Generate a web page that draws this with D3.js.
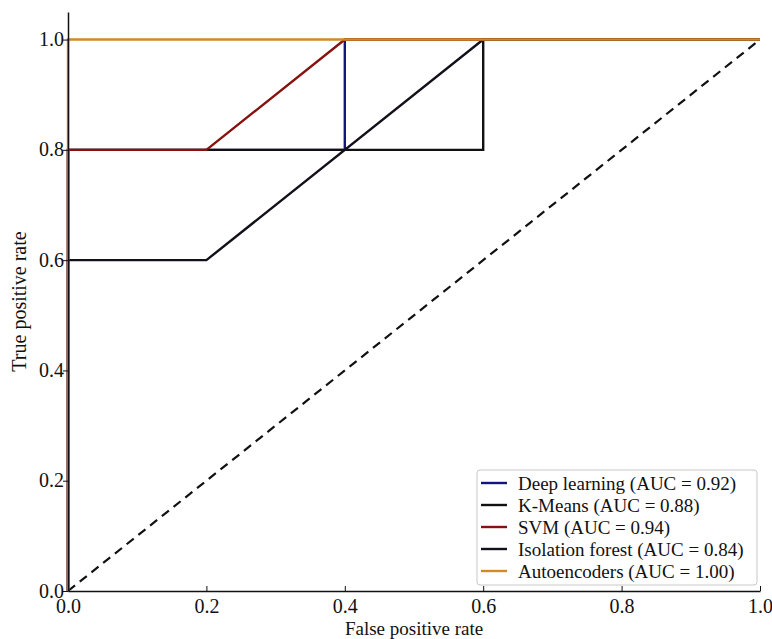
<!DOCTYPE html>
<html>
<head>
<meta charset="utf-8">
<script src="https://cdn.jsdelivr.net/npm/d3@7"></script>
</head>
<body style="margin:0; background:#fff">
<svg id="chart" width="772" height="639"></svg>
<script>
// ROC curves: false positive rate / true positive rate
const deepFpr = [0, 0, 0.4, 0.4, 1];
const deepTpr = [0, 0.8, 0.8, 1, 1];
const kmeansFpr = [0, 0, 0.6, 0.6, 1];
const kmeansTpr = [0, 0.8, 0.8, 1, 1];
const svmFpr = [0, 0, 0.2, 0.4, 1];
const svmTpr = [0, 0.8, 0.8, 1, 1];
const isoFpr = [0, 0, 0.2, 0.6, 1];
const isoTpr = [0, 0.6, 0.6, 1, 1];
const aeFpr = [0, 0, 1];
const aeTpr = [0, 1, 1];

const names = ["Deep learning", "K-Means", "SVM", "Isolation forest", "Autoencoders"];
const aucs = [0.92, 0.88, 0.94, 0.84, 1.00];
const tickValues = [0, 0.2, 0.4, 0.6, 0.8, 1.0];

const colors = ["#14147a", "#111111", "#8a1010", "#14101a", "#cf8a2a"];
const FONT = "Liberation Serif";

const series = [
  [deepFpr, deepTpr],
  [kmeansFpr, kmeansTpr],
  [svmFpr, svmTpr],
  [isoFpr, isoTpr],
  [aeFpr, aeTpr]
].map((s, i) => ({
  name: names[i],
  auc: aucs[i],
  color: colors[i],
  pts: s[0].map((f, j) => ({ x: f, y: s[1][j] }))
}));

const margin = { top: 12, right: 12, bottom: 48, left: 68 };
const W = 772, H = 639;
const svg = d3.select("#chart");

const x = d3.scaleLinear().domain([0, 1]).range([margin.left, W - margin.right]);
const y = d3.scaleLinear().domain([0, 1.05]).range([H - margin.bottom, margin.top]);

// diagonal chance line
svg.append("line")
  .attr("x1", x(0)).attr("y1", y(0))
  .attr("x2", x(1)).attr("y2", y(1))
  .attr("stroke", "#111")
  .attr("stroke-width", 2.2)
  .attr("stroke-dasharray", "9,6");

const line = d3.line().x(d => x(d.x)).y(d => y(d.y));

svg.append("g")
  .selectAll("path")
  .data(series)
  .enter()
  .append("path")
  .attr("d", d => line(d.pts))
  .attr("fill", "none")
  .attr("stroke", d => d.color)
  .attr("stroke-width", 2.4);

// axes
const xAxis = d3.axisBottom(x).tickValues(tickValues).tickFormat(d3.format(".1f")).tickSizeInner(-5).tickSizeOuter(0);
svg.append("g")
  .attr("transform", `translate(0,${y(0)})`)
  .call(xAxis)
  .call(g => {
    g.attr("font-family", FONT).attr("font-size", 20);
    g.select(".domain").attr("stroke", "#111").attr("stroke-width", 1.5);
    g.selectAll(".tick line").attr("stroke", "#111");
    g.selectAll(".tick text").attr("y", 8).attr("dy", "0.71em").attr("fill", "#111");
  });

const yAxis = d3.axisLeft(y).tickValues(tickValues).tickFormat(d3.format(".1f")).tickSizeInner(5).tickSizeOuter(0);
svg.append("g")
  .attr("transform", `translate(${x(0)},0)`)
  .call(yAxis)
  .call(g => {
    g.attr("font-family", FONT).attr("font-size", 20);
    g.select(".domain").attr("stroke", "#111").attr("stroke-width", 1.5);
    g.selectAll(".tick line").attr("stroke", "#111");
    g.selectAll(".tick text").attr("x", -4).attr("dy", "0.3em").attr("fill", "#111");
  });

// axis labels
svg.append("text")
  .attr("x", (x(0) + x(1)) / 2)
  .attr("y", 635)
  .attr("text-anchor", "middle")
  .attr("font-family", FONT)
  .attr("font-size", 19)
  .attr("fill", "#111")
  .text("False positive rate");

svg.append("text")
  .attr("transform", `translate(26,${(y(0) + y(1.05)) / 2}) rotate(-90)`)
  .attr("text-anchor", "middle")
  .attr("font-family", FONT)
  .attr("font-size", 20)
  .attr("fill", "#111")
  .text("True positive rate");

// legend
const lg = svg.append("g").attr("transform", "translate(477,470)");
lg.append("rect")
  .attr("width", 280).attr("height", 115)
  .attr("rx", 3)
  .attr("fill", "#fff")
  .attr("stroke", "#c8c8c8");

const rows = lg.selectAll("g.row")
  .data(series)
  .enter()
  .append("g")
  .attr("class", "row")
  .attr("transform", (d, i) => `translate(0,${13 + i * 22})`);

rows.append("line")
  .attr("x1", 4).attr("x2", 30)
  .attr("stroke", d => d.color)
  .attr("stroke-width", 2.4);

rows.append("text")
  .attr("x", 41)
  .attr("dy", "0.35em")
  .attr("font-family", FONT)
  .attr("font-size", 19)
  .attr("fill", "#111")
  .text(d => `${d.name} (AUC = ${d.auc.toFixed(2)})`);
</script>
</body>
</html>
